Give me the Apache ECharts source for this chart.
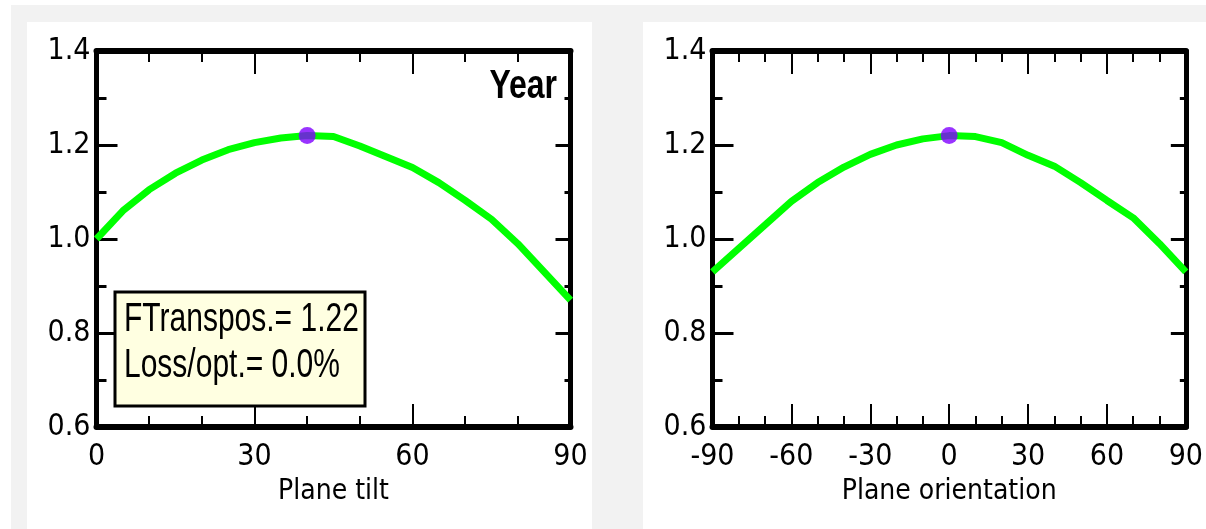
<!DOCTYPE html>
<html>
<head>
<meta charset="utf-8">
<script src="https://cdn.jsdelivr.net/npm/echarts@6/dist/echarts.min.js"></script>
<style>
  html, body { margin: 0; padding: 0; background: #ffffff; }
  #chart { width: 1206px; height: 529px; }
</style>
</head>
<body>
<div id="chart"></div>
<script>
// 倾角曲线（年）
const tiltAngles = [0, 5, 10, 15, 20, 25, 30, 35, 40, 45, 50, 55, 60, 65, 70, 75, 80, 85, 90];
const tiltFactor = [1.00, 1.06, 1.105, 1.14, 1.168, 1.19, 1.205, 1.215, 1.22, 1.218, 1.198, 1.175, 1.152, 1.12, 1.082, 1.042, 0.99, 0.93, 0.87];

// 方位曲线
const orientAngles = [-90, -80, -70, -60, -50, -40, -30, -20, -10, 0, 10, 20, 30, 40, 50, 60, 70, 80, 90];
const orientFactor = [0.93, 0.98, 1.03, 1.08, 1.12, 1.153, 1.18, 1.20, 1.213, 1.22, 1.218, 1.205, 1.178, 1.155, 1.12, 1.082, 1.045, 0.99, 0.93];

// 最优点
const optTilt = [40, 1.22];
const optOrient = [0, 1.22];

const tiltTicks = [0, 90, 30];
const orientTicks = [-90, 90, 30];
const factorTicks = [0.6, 1.4, 0.2];

const infoLines = ['FTranspos.= 1.22', 'Loss/opt.= 0.0%'];
const periodLabel = 'Year';
const tiltName = 'Plane tilt';
const orientName = 'Plane orientation';

// 没有窄体字，坐标轴用 DejaVu Condensed，注释文字用横向压缩
const FONT = "'Liberation Sans Narrow', 'DejaVu Sans Condensed', 'Liberation Sans', sans-serif";
const BOX_FONT = "'Liberation Sans', Arial, sans-serif";
const GREEN = '#00ff00';
const PURPLE = '#8000ff';

function zip(xs, ys) {
  return xs.map((x, i) => [x, ys[i]]);
}

// x 轴（底部带标签，顶部只有刻度）
function xAxisPair(gridIndex, ticks, name) {
  const base = {
    type: 'value',
    gridIndex: gridIndex,
    min: ticks[0],
    max: ticks[1],
    interval: ticks[2],
    splitLine: { show: false },
    axisLine: { show: true, onZero: false, lineStyle: { color: '#000', width: 6 } },
    axisTick: { show: true, inside: true, length: 23, lineStyle: { color: '#000', width: 2 } },
    minorTick: { show: true, splitNumber: 3, length: 11, lineStyle: { color: '#000', width: 2 } }
  };
  return [
    Object.assign({}, base, {
      position: 'bottom',
      name: name,
      nameLocation: 'middle',
      nameGap: 51,
      nameTextStyle: { fontFamily: FONT, fontSize: 28, color: '#000' },
      axisLabel: {
        show: true, margin: 15, fontFamily: FONT, fontSize: 30, color: '#000',
        showMinLabel: true, showMaxLabel: true
      }
    }),
    Object.assign({}, base, { position: 'top', axisLabel: { show: false } })
  ];
}

// y 轴（左侧带标签，右侧短刻度）
function yAxisPair(gridIndex) {
  const base = {
    type: 'value',
    gridIndex: gridIndex,
    min: factorTicks[0],
    max: factorTicks[1],
    interval: factorTicks[2],
    splitLine: { show: false },
    axisLine: { show: true, onZero: false, lineStyle: { color: '#000', width: 5 } },
    axisTick: { show: true, inside: true, length: 21, lineStyle: { color: '#000', width: 3 } },
    minorTick: { show: true, splitNumber: 2, length: 10, lineStyle: { color: '#000', width: 3 } }
  };
  return [
    Object.assign({}, base, {
      position: 'left',
      axisLabel: {
        show: true, margin: 6, fontFamily: FONT, fontSize: 30, color: '#000',
        showMinLabel: true, showMaxLabel: true,
        formatter: v => v.toFixed(1)
      }
    }),
    Object.assign({}, base, {
      position: 'right',
      axisLabel: { show: false },
      axisTick: { show: true, inside: true, length: 15, lineStyle: { color: '#000', width: 3 } },
      minorTick: { show: true, splitNumber: 2, length: 6, lineStyle: { color: '#000', width: 3 } }
    })
  ];
}

const chart = echarts.init(document.getElementById('chart'), null, { renderer: 'canvas' });

const option = {
  animation: false,
  backgroundColor: '#ffffff',
  grid: [
    { left: 96.5, top: 51, width: 474, height: 376 },
    { left: 712.5, top: 51, width: 473.5, height: 376 }
  ],
  xAxis: [].concat(xAxisPair(0, tiltTicks, tiltName), xAxisPair(1, orientTicks, orientName)),
  yAxis: [].concat(yAxisPair(0), yAxisPair(1)),
  series: [
    {
      type: 'line', xAxisIndex: 0, yAxisIndex: 0,
      data: zip(tiltAngles, tiltFactor),
      symbol: 'none',
      lineStyle: { color: GREEN, width: 7 }
    },
    {
      type: 'scatter', xAxisIndex: 0, yAxisIndex: 0,
      data: [optTilt],
      symbol: 'circle', symbolSize: 17,
      itemStyle: { color: PURPLE }, z: 5
    },
    {
      type: 'line', xAxisIndex: 2, yAxisIndex: 2,
      data: zip(orientAngles, orientFactor),
      symbol: 'none',
      lineStyle: { color: GREEN, width: 7 }
    },
    {
      type: 'scatter', xAxisIndex: 2, yAxisIndex: 2,
      data: [optOrient],
      symbol: 'circle', symbolSize: 17,
      itemStyle: { color: PURPLE }, z: 5
    }
  ],
  graphic: [
    // 面板背景
    { type: 'rect', z: -10, silent: true, shape: { x: 11, y: 5, width: 1195, height: 524 }, style: { fill: '#f2f2f2' } },
    { type: 'rect', z: -9, silent: true, shape: { x: 27, y: 22, width: 565, height: 507 }, style: { fill: '#ffffff' } },
    { type: 'rect', z: -9, silent: true, shape: { x: 643, y: 22, width: 563, height: 507 }, style: { fill: '#ffffff' } },
    // 信息框
    {
      type: 'rect', z: 50,
      shape: { x: 115, y: 292, width: 250, height: 114 },
      style: { fill: '#ffffe1', stroke: '#000', lineWidth: 3 }
    },
    {
      type: 'text', z: 51, x: 124, y: 297, scaleX: 0.75,
      style: {
        text: infoLines.join('\n'),
        font: '40px ' + BOX_FONT,
        lineHeight: 46,
        fill: '#000',
        textVerticalAlign: 'top'
      }
    },
    {
      type: 'text', z: 51, x: 557, y: 67, scaleX: 0.8,
      style: {
        text: periodLabel,
        font: 'bold 40px ' + BOX_FONT,
        fill: '#000',
        textAlign: 'right',
        textVerticalAlign: 'top'
      }
    }
  ]
};

chart.setOption(option);
</script>
</body>
</html>
